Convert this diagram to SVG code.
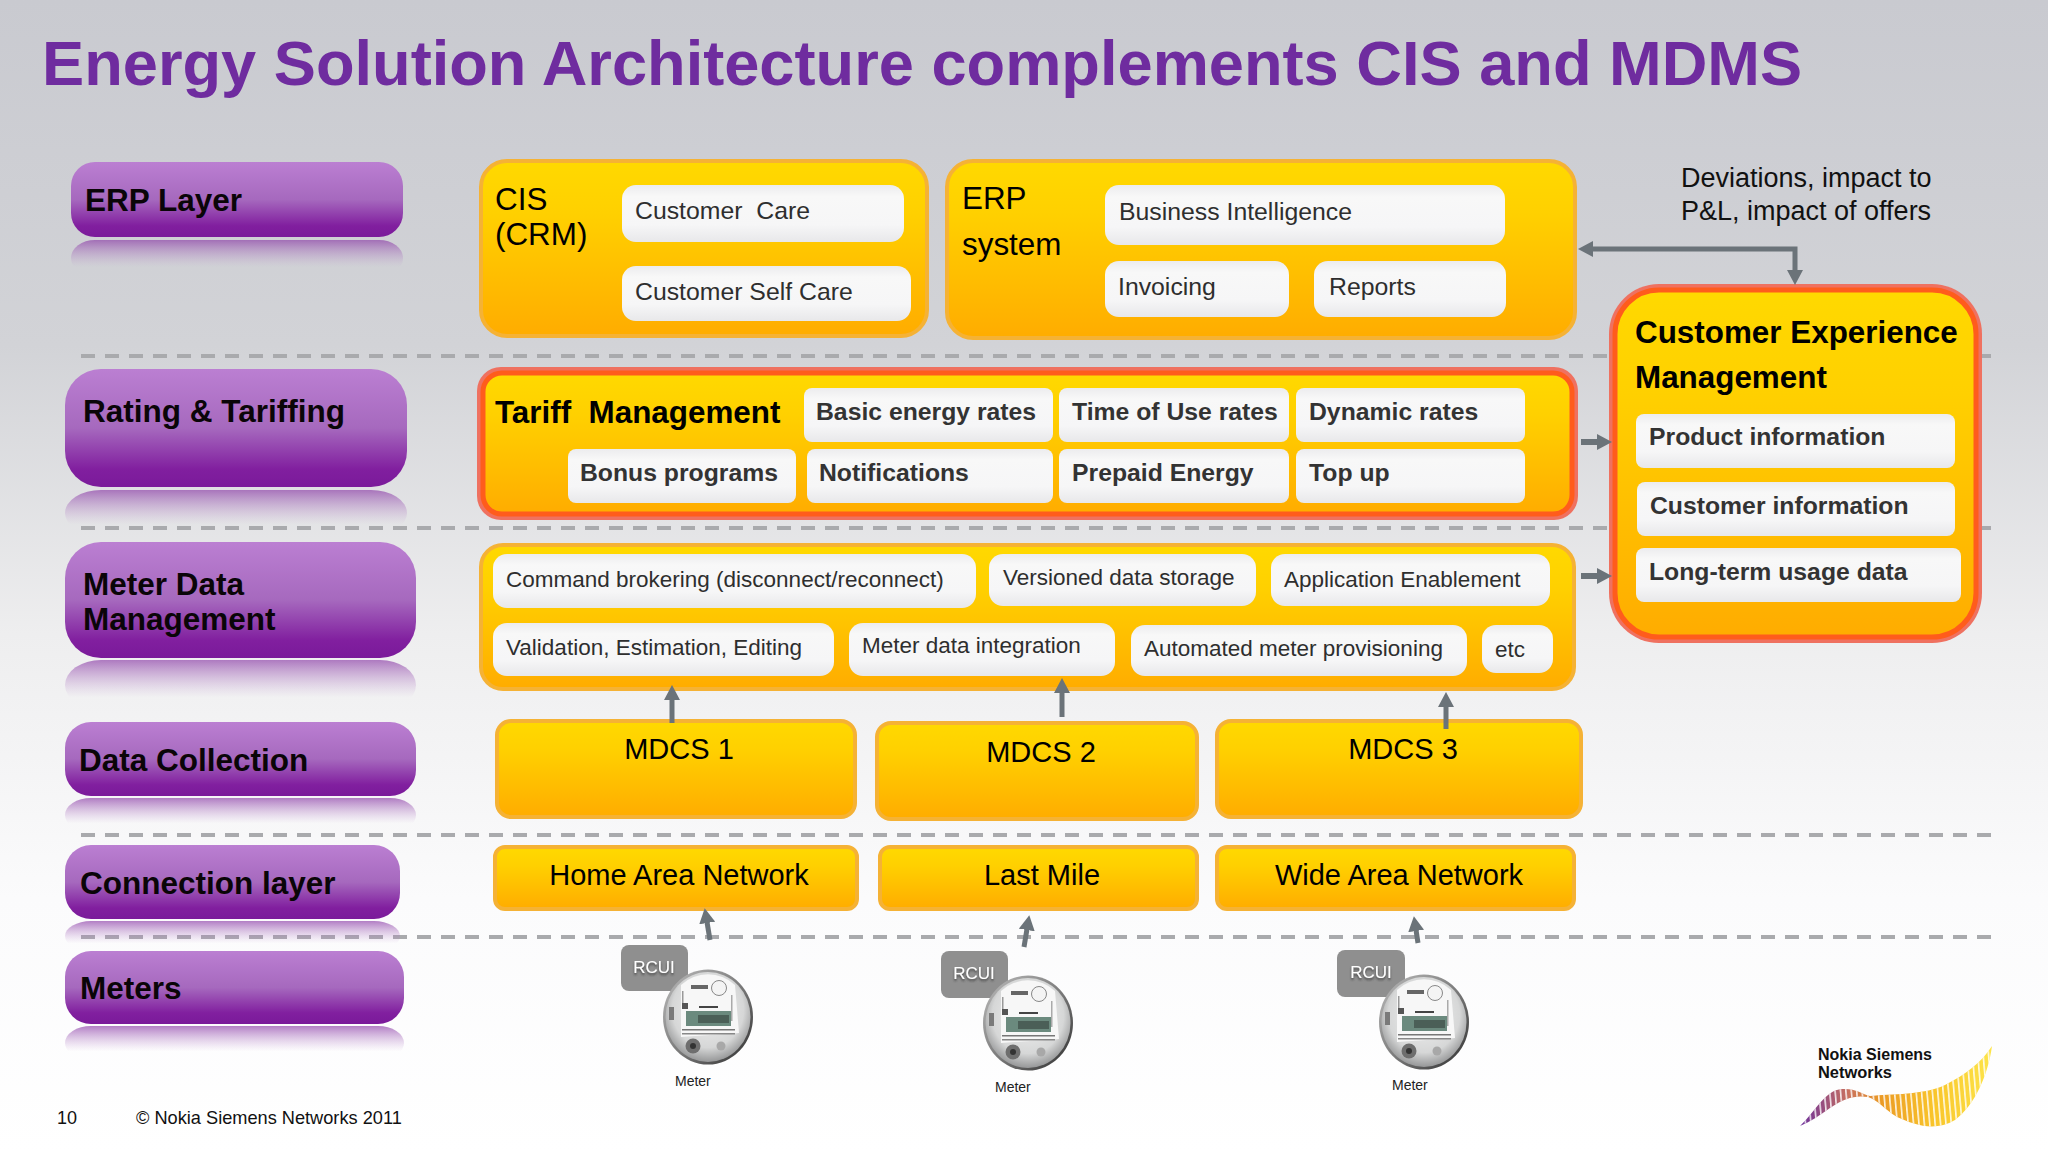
<svg xmlns="http://www.w3.org/2000/svg" width="2048" height="1152" viewBox="0 0 2048 1152">
<style>
text{font-family:"Liberation Sans",Arial,sans-serif;white-space:pre}
.pt{font-size:31.5px;font-weight:700;fill:#0a0508}
.y{fill:url(#gy);stroke:#f5b235;stroke-width:4}
.ro{fill:#ef7160}
.ri{fill:url(#gy);stroke:#ff5c1c;stroke-width:5}
.w{fill:url(#gw)}
.t{font-size:24.8px;fill:#2e2e2e}
.tm{font-size:22.5px;fill:#2e2e2e}
.tb{font-size:24.75px;font-weight:700;fill:#333}
.h{font-size:31.4px;fill:#000}
.hb{font-size:31.4px;font-weight:700;fill:#000}
.c{font-size:29px;fill:#000;text-anchor:middle}
.p{fill:url(#gp)}
.r{fill:url(#gr)}
.div{stroke:#a9aaad;stroke-width:4;stroke-dasharray:14 10;fill:none}
.a{stroke:#6b7379;fill:none;stroke-width:5;marker-end:url(#ah)}
.a2{stroke:#6b7379;fill:none;stroke-width:6;marker-end:url(#ah)}
.rc{fill:#8f8f8f}
.rt{font-size:17px;fill:#fff;text-anchor:middle;filter:url(#ts)}
.ml{font-size:14px;fill:#222}
</style>
<defs>
<linearGradient id="bg" x1="0" y1="0" x2="0" y2="1"><stop offset="0" stop-color="#c9cad0"/><stop offset=".3" stop-color="#d2d3d7"/><stop offset=".55" stop-color="#eeeeef"/><stop offset=".78" stop-color="#fbfbfc"/><stop offset="1" stop-color="#fff"/></linearGradient>
<linearGradient id="gy" x1="0" y1="0" x2="0" y2="1"><stop offset="0" stop-color="#ffd900"/><stop offset=".3" stop-color="#ffd000"/><stop offset="1" stop-color="#ffac00"/></linearGradient>
<linearGradient id="gw" x1="0" y1="0" x2="0" y2="1"><stop offset="0" stop-color="#ececee"/><stop offset=".2" stop-color="#f8f8f8"/><stop offset=".7" stop-color="#f6f6f7"/><stop offset="1" stop-color="#e8e8ea"/></linearGradient>
<linearGradient id="gp" x1="0" y1="0" x2="0" y2="1"><stop offset="0" stop-color="#bb7fd2"/><stop offset=".5" stop-color="#a669be"/><stop offset=".85" stop-color="#811f9f"/><stop offset="1" stop-color="#7a1a9a"/></linearGradient>
<linearGradient id="gr" x1="0" y1="0" x2="0" y2="1"><stop offset="0" stop-color="#8a3aa6" stop-opacity=".65"/><stop offset=".75" stop-color="#bb90cc" stop-opacity="0"/></linearGradient>
<linearGradient id="gm" x1="0" y1="0" x2="1" y2="1"><stop offset="0" stop-color="#bdbdbd"/><stop offset=".5" stop-color="#7d7d7d"/><stop offset="1" stop-color="#2e2e2e"/></linearGradient>
<radialGradient id="gf" cx=".5" cy=".42" r=".6"><stop offset="0" stop-color="#f2f2f2"/><stop offset=".7" stop-color="#d6d7d7"/><stop offset="1" stop-color="#8e8f90"/></radialGradient>
<linearGradient id="gl" x1="0" y1="0" x2="1" y2="0"><stop offset="0" stop-color="#6b2f9c"/><stop offset=".25" stop-color="#c8705f"/><stop offset=".42" stop-color="#eb9a25"/><stop offset=".7" stop-color="#f9c52a"/><stop offset="1" stop-color="#fde54a"/></linearGradient>
<pattern id="st" width="5.4" height="10" patternUnits="userSpaceOnUse" patternTransform="skewX(5)"><rect width="1.6" height="10" fill="#fff" opacity=".85"/></pattern>
<filter id="ts" x="-20%" y="-20%" width="140%" height="160%"><feDropShadow dx="0" dy="2" stdDeviation="1.2" flood-color="#333" flood-opacity=".8"/></filter>
<marker id="ah" markerUnits="userSpaceOnUse" markerWidth="16" markerHeight="16" refX="1" refY="8" orient="auto-start-reverse"><path d="M0,0L15,8L0,16z" fill="#6b7379"/></marker>
<g id="meter">
<ellipse cx="0" cy="0" rx="45" ry="47.5" fill="url(#gm)"/>
<ellipse cx="0" cy="0" rx="42.5" ry="45" fill="url(#gf)"/>
<path d="M-27,-32A41,43 0 0 1 27,-32L31,16L-27,20z" fill="#f7f7f7"/>
<circle cx="11" cy="-29" r="7.5" fill="#f4f4f4" stroke="#888" stroke-width="1"/>
<rect x="-17" y="-32" width="17" height="4" fill="#666"/>
<rect x="-26" y="-26" width="1.5" height="16" fill="#999"/>
<rect x="-26" y="-14" width="6" height="6" fill="#555"/>
<rect x="23" y="-22" width="1.5" height="26" fill="#aaa"/>
<rect x="-22" y="-6" width="45" height="15" fill="#6b8a7e"/>
<rect x="-10" y="-2" width="31" height="8" fill="#4b5f57"/>
<rect x="-9" y="-11" width="19" height="2" fill="#444"/>
<rect x="-26" y="12" width="53" height="1.5" fill="#777"/>
<rect x="-26" y="16" width="53" height="1.5" fill="#888"/>
<circle cx="-15" cy="29" r="7.5" fill="#6e6e6e"/>
<circle cx="-15" cy="29" r="3" fill="#333"/>
<circle cx="13" cy="29" r="4.5" fill="#a8a8a8"/>
<rect x="-39" y="-10" width="5" height="13" fill="#7a7a7a"/>
</g>
</defs>
<rect width="2048" height="1152" fill="url(#bg)"/>
<text x="42" y="85" font-size="63.2" font-weight="700" fill="#6f2c9f">Energy Solution Architecture complements CIS and MDMS</text>

<g id="dividers">
<path class="div" d="M81,356H1992"/>
<path class="div" d="M81,528H1992"/>
<path class="div" d="M81,835H1992"/>
<path class="div" d="M81,937H1992"/>
</g>

<g id="layer-erp"><rect class="r" x="71" y="240" width="332" height="36" rx="24"/><rect class="p" x="71" y="162" width="332" height="75" rx="24"/><text class="pt" x="85" y="211">ERP Layer</text></g>
<g id="layer-rating"><rect class="r" x="65" y="490" width="342" height="46" rx="36"/><rect class="p" x="65" y="369" width="342" height="118" rx="36"/><text class="pt" x="83" y="422">Rating &amp; Tariffing</text></g>
<g id="layer-mdm"><rect class="r" x="65" y="660" width="351" height="50" rx="36"/><rect class="p" x="65" y="542" width="351" height="116" rx="36"/><text class="pt" x="83" y="595">Meter Data</text><text class="pt" x="83" y="630">Management</text></g>
<g id="layer-collection"><rect class="r" x="65" y="798" width="351" height="34" rx="26"/><rect class="p" x="65" y="722" width="351" height="74" rx="26"/><text class="pt" x="79" y="771">Data Collection</text></g>
<g id="layer-connection"><rect class="r" x="65" y="921" width="335" height="30" rx="26"/><rect class="p" x="65" y="845" width="335" height="74" rx="26"/><text class="pt" x="80" y="894">Connection layer</text></g>
<g id="layer-meters"><rect class="r" x="65" y="1026" width="339" height="34" rx="26"/><rect class="p" x="65" y="951" width="339" height="73" rx="26"/><text class="pt" x="80" y="999">Meters</text></g>

<g id="cis"><rect class="y" x="481" y="161" width="446" height="175" rx="26"/>
<text class="h" x="495" y="210">CIS</text><text class="h" x="495" y="245">(CRM)</text>
<rect class="w" x="622" y="185" width="282" height="57" rx="14"/><text class="t" x="635" y="219">Customer  Care</text>
<rect class="w" x="622" y="266" width="289" height="55" rx="14"/><text class="t" x="635" y="300">Customer Self Care</text></g>

<g id="erp"><rect class="y" x="947" y="161" width="628" height="177" rx="26"/>
<text class="h" x="962" y="209">ERP</text><text class="h" x="962" y="255">system</text>
<rect class="w" x="1105" y="185" width="400" height="60" rx="14"/><text class="t" x="1119" y="220">Business Intelligence</text>
<rect class="w" x="1105" y="261" width="184" height="56" rx="14"/><text class="t" x="1118" y="295">Invoicing</text>
<rect class="w" x="1314" y="261" width="192" height="56" rx="14"/><text class="t" x="1329" y="295">Reports</text></g>

<g id="tariff"><rect class="ro" x="477" y="367" width="1101" height="153" rx="24"/><rect class="ri" x="483" y="373" width="1089" height="141" rx="19"/>
<text class="hb" x="495" y="423">Tariff  Management</text>
<rect class="w" x="804" y="388" width="249" height="54" rx="8"/><text class="tb" x="816" y="420">Basic energy rates</text>
<rect class="w" x="1059" y="388" width="230" height="54" rx="8"/><text class="tb" x="1072" y="420">Time of Use rates</text>
<rect class="w" x="1296" y="388" width="229" height="54" rx="8"/><text class="tb" x="1309" y="420">Dynamic rates</text>
<rect class="w" x="568" y="449" width="228" height="54" rx="8"/><text class="tb" x="580" y="481">Bonus programs</text>
<rect class="w" x="807" y="449" width="246" height="54" rx="8"/><text class="tb" x="819" y="481">Notifications</text>
<rect class="w" x="1059" y="449" width="230" height="54" rx="8"/><text class="tb" x="1072" y="481">Prepaid Energy</text>
<rect class="w" x="1296" y="449" width="229" height="54" rx="8"/><text class="tb" x="1309" y="481">Top up</text></g>

<g id="mdm"><rect class="y" x="481" y="545" width="1093" height="144" rx="22"/>
<rect class="w" x="493" y="554" width="483" height="54" rx="14"/><text class="tm" x="506" y="587">Command brokering (disconnect/reconnect)</text>
<rect class="w" x="989" y="554" width="267" height="52" rx="14"/><text class="tm" x="1003" y="585">Versioned data storage</text>
<rect class="w" x="1271" y="554" width="279" height="52" rx="14"/><text class="tm" x="1284" y="587">Application Enablement</text>
<rect class="w" x="493" y="623" width="341" height="53" rx="14"/><text class="tm" x="506" y="655">Validation, Estimation, Editing</text>
<rect class="w" x="849" y="623" width="266" height="53" rx="14"/><text class="tm" x="862" y="653">Meter data integration</text>
<rect class="w" x="1131" y="625" width="336" height="51" rx="14"/><text class="tm" x="1144" y="656">Automated meter provisioning</text>
<rect class="w" x="1482" y="625" width="71" height="48" rx="14"/><text class="tm" x="1495" y="657">etc</text></g>

<g id="mdcs1"><rect class="y" x="497" y="721" width="358" height="96" rx="14"/><text class="c" x="679" y="759">MDCS 1</text></g>
<g id="mdcs2"><rect class="y" x="877" y="723" width="320" height="96" rx="14"/><text class="c" x="1041" y="762">MDCS 2</text></g>
<g id="mdcs3"><rect class="y" x="1217" y="721" width="364" height="96" rx="14"/><text class="c" x="1403" y="759">MDCS 3</text></g>
<g id="han"><rect class="y" x="495" y="847" width="362" height="62" rx="10"/><text class="c" x="679" y="885">Home Area Network</text></g>
<g id="lastmile"><rect class="y" x="880" y="847" width="317" height="62" rx="10"/><text class="c" x="1042" y="885">Last Mile</text></g>
<g id="wan"><rect class="y" x="1217" y="847" width="357" height="62" rx="10"/><text class="c" x="1399" y="885">Wide Area Network</text></g>

<g id="cem"><rect class="ro" x="1609" y="284" width="373" height="359" rx="50"/><rect class="ri" x="1615" y="290" width="361" height="347" rx="44"/>
<text class="hb" x="1635" y="343">Customer Experience</text><text class="hb" x="1635" y="388">Management</text>
<rect class="w" x="1636" y="414" width="319" height="54" rx="8"/><text class="tb" x="1649" y="445">Product information</text>
<rect class="w" x="1637" y="482" width="318" height="54" rx="8"/><text class="tb" x="1650" y="514">Customer information</text>
<rect class="w" x="1636" y="548" width="325" height="54" rx="8"/><text class="tb" x="1649" y="580">Long-term usage data</text></g>

<g id="deviations"><text x="1681" y="187" font-size="27" fill="#111">Deviations, impact to</text><text x="1681" y="220" font-size="27" fill="#111">P&amp;L, impact of offers</text></g>

<g id="meter1"><rect class="rc" x="621" y="945" width="67" height="46" rx="8"/><text class="rt" x="654" y="973">RCUI</text><use href="#meter" x="708" y="1017"/><text class="ml" x="675" y="1086">Meter</text></g>
<g id="meter2"><rect class="rc" x="941" y="951" width="67" height="47" rx="8"/><text class="rt" x="974" y="979">RCUI</text><use href="#meter" x="1028" y="1023"/><text class="ml" x="995" y="1092">Meter</text></g>
<g id="meter3"><rect class="rc" x="1337" y="950" width="68" height="47" rx="8"/><text class="rt" x="1371" y="978">RCUI</text><use href="#meter" x="1424" y="1022"/><text class="ml" x="1392" y="1090">Meter</text></g>

<g id="connectors">
<path class="a" d="M1592,249H1795V271" style="marker-start:url(#ah)"/>
<path class="a2" d="M1581,442H1598"/>
<path class="a2" d="M1581,576H1598"/>
<path class="a" d="M672,723V699"/>
<path class="a" d="M1062,717V692"/>
<path class="a" d="M1446,729V706"/>
<path class="a" d="M710,940L707,922"/>
<path class="a" d="M1024,947L1027,929"/>
<path class="a" d="M1418,943L1416,930"/>
</g>

<g id="footer"><text x="57" y="1124" font-size="18" fill="#111">10</text><text x="136" y="1124" font-size="18.2" fill="#111">© Nokia Siemens Networks 2011</text></g>

<g id="logo">
<path d="M1800,1126C1815,1112 1825,1090 1842,1089C1855,1088 1862,1094 1870,1096C1890,1094 1925,1095 1945,1085C1965,1075 1982,1062 1992,1046C1988,1075 1975,1105 1955,1120C1935,1132 1915,1125 1897,1117C1885,1110 1878,1100 1868,1097C1855,1095 1845,1098 1830,1108C1820,1115 1810,1122 1800,1126z" fill="url(#gl)"/>
<path d="M1800,1126C1815,1112 1825,1090 1842,1089C1855,1088 1862,1094 1870,1096C1890,1094 1925,1095 1945,1085C1965,1075 1982,1062 1992,1046C1988,1075 1975,1105 1955,1120C1935,1132 1915,1125 1897,1117C1885,1110 1878,1100 1868,1097C1855,1095 1845,1098 1830,1108C1820,1115 1810,1122 1800,1126z" fill="url(#st)"/>
<text x="1818" y="1060" font-size="17" font-weight="700" fill="#111" textLength="114" lengthAdjust="spacingAndGlyphs">Nokia Siemens</text>
<text x="1818" y="1078" font-size="17" font-weight="700" fill="#111" textLength="74" lengthAdjust="spacingAndGlyphs">Networks</text>
</g>
</svg>
